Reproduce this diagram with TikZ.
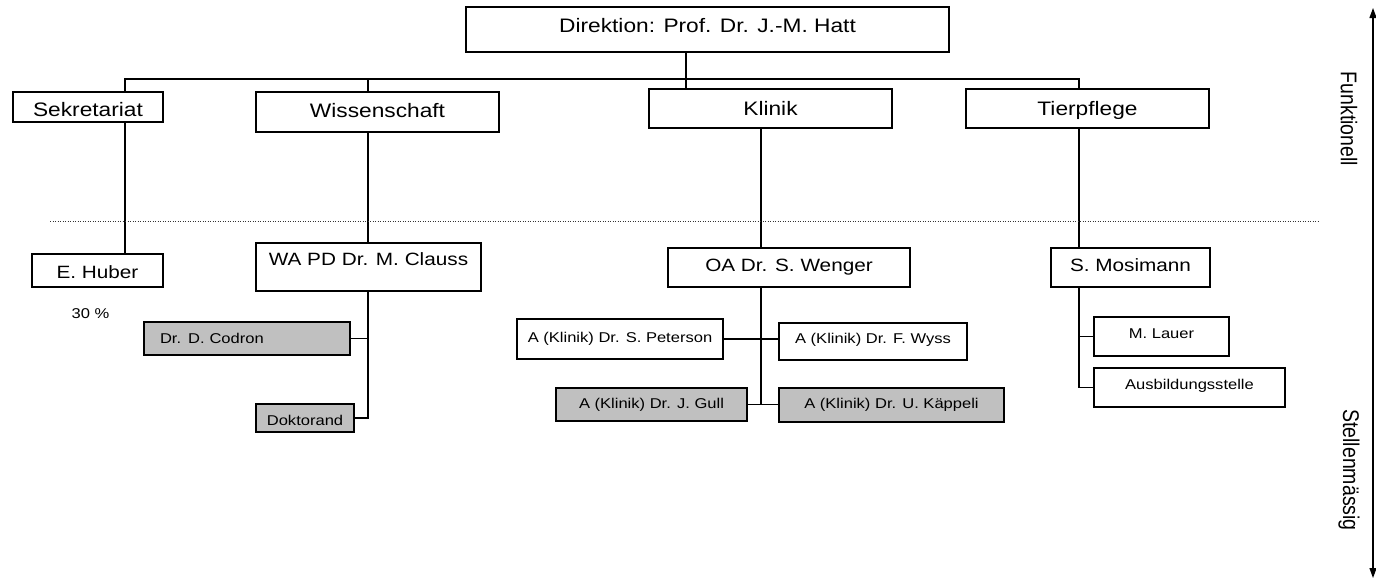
\documentclass[tikz,border=0pt]{standalone}
\usepackage{fontspec}
\setmainfont{Liberation Sans}[FakeStretch=1.165]
\newfontfamily\rotfont{Liberation Sans}
\usepackage{graphicx}
\usetikzlibrary{arrows.meta}
\definecolor{boxgray}{HTML}{C0C0C0}
\definecolor{busgray}{HTML}{333333}
\begin{document}
\begin{tikzpicture}[x=1pt,y=-1pt,
  bx/.style={draw, line width=1.3pt, inner sep=0pt},
  gbx/.style={bx, fill=boxgray},
  big/.style={font=\fontsize{19.5pt}{23pt}\selectfont, text height=14pt, text depth=0pt},
  mid/.style={font=\fontsize{17.8pt}{21pt}\selectfont, text height=12.7pt, text depth=0pt},
  small/.style={font=\fontsize{14.2pt}{17pt}\selectfont, text height=10.2pt, text depth=0pt},
  ln/.style={line width=1.3pt, black},
  dotline/.style={line width=0.8pt, busgray, dash pattern=on 1pt off 1.5pt},
  rot/.style={rotate=-90, inner sep=0pt, font=\rotfont\fontsize{19.5pt}{23pt}\selectfont},
  tip/.style={line width=1.3pt, {Triangle[length=10pt,width=7pt]}-{Triangle[length=10pt,width=7pt]}}
]
\useasboundingbox (0,0) rectangle (1376,584);

% top level
\node[bx, big, minimum width=483pt, minimum height=45pt] (dir) at (707.5,29.5) {\raisebox{4.5pt}{Direktion: Prof. Dr. J.-M. Hatt}};
\node[bx, big, minimum width=150pt, minimum height=30pt] (sek) at (88,107) {\raisebox{-2pt}{Sekretariat}};
\node[bx, big, minimum width=243pt, minimum height=40pt] (wis) at (377.5,112) {\raisebox{2pt}{Wissenschaft}};
\node[bx, big, minimum width=243pt, minimum height=39pt] (kli) at (770.5,108.5) {Klinik};
\node[bx, big, minimum width=243pt, minimum height=39pt] (tie) at (1087.5,108.5) {Tierpflege};

% second level
\node[bx, mid, minimum width=131pt, minimum height=33pt] (hub) at (97.5,270.5) {\raisebox{-2pt}{E. Huber}};
\node[bx, mid, minimum width=225pt, minimum height=48pt] (cla) at (368.5,267) {\raisebox{8pt}{WA PD Dr. M. Clauss}};
\node[bx, mid, minimum width=242pt, minimum height=39pt] (wen) at (789,267.5) {\raisebox{2.5pt}{OA Dr. S. Wenger}};
\node[bx, mid, minimum width=159pt, minimum height=39pt] (mos) at (1130.5,267.5) {\raisebox{2.5pt}{S. Mosimann}};

% third level
\node[gbx, small, minimum width=206pt, minimum height=33pt, text width=174pt, align=left, inner xsep=16pt] (cod) at (247,338.5) {Dr. D. Codron};
\node[gbx, small, minimum width=98pt, minimum height=28pt] (dok) at (305,418) {\raisebox{-2pt}{Doktorand}};
\node[bx, small, minimum width=206pt, minimum height=40pt] (pet) at (620,339) {\raisebox{2pt}{A (Klinik) Dr. S. Peterson}};
\node[bx, small, minimum width=188pt, minimum height=37pt] (wys) at (873,341.5) {\raisebox{3.5pt}{A (Klinik) Dr. F. Wyss}};
\node[gbx, small, minimum width=191pt, minimum height=33pt] (gul) at (651.5,404.5) {\raisebox{1.5pt}{A (Klinik) Dr. J. Gull}};
\node[gbx, small, minimum width=225pt, minimum height=34pt] (kap) at (891.5,405) {\raisebox{2pt}{A (Klinik) Dr. U. Käppeli}};
\node[bx, small, minimum width=135pt, minimum height=39pt] (lau) at (1161.5,336.5) {\raisebox{3.5pt}{M. Lauer}};
\node[bx, small, minimum width=191pt, minimum height=39pt] (aus) at (1189.5,387.5) {\raisebox{3.5pt}{Ausbildungsstelle}};

\node[small, inner sep=0pt] (pct) at (90.5,313) {30 \%};

% column coordinates
\coordinate (c125) at (125,79);
\coordinate (c368) at (368,79);
\coordinate (c686) at (686,79);
\coordinate (c761) at (761,79);
\coordinate (c1079) at (1079,79);

% connectors
\draw[ln] (sek.north -| c125) -- (c125) -- (c1079) -- (tie.north -| c1079);
\draw[ln] (c368) -- (wis.north -| c368);
\draw[ln] (dir.south -| c686) -- (kli.north -| c686);
\draw[ln] (sek.south -| c125) -- (hub.north -| c125);
\draw[ln] (wis.south -| c368) -- (cla.north -| c368);
\draw[ln] (cla.south -| c368) |- (dok.east);
\draw[ln] (cod.east) -- (cod.east -| c368);
\draw[ln] (kli.south -| c761) -- (wen.north -| c761);
\draw[ln] (wen.south -| c761) -- (gul.east -| c761);
\draw[ln] (pet.east) -- (pet.east -| wys.west);
\draw[ln] (gul.east) -- (gul.east -| kap.west);
\draw[ln] (tie.south -| c1079) -- (mos.north -| c1079);
\draw[ln] (mos.south -| c1079) |- (aus.west);
\draw[ln] (c1079 |- lau.west) -- (lau.west);

% dotted separator
\coordinate (dl) at (50,221);
\coordinate (dr) at (1320,221);
\draw[dotline] (dl) -- (dr);

% side arrow and labels
\coordinate (at) at (1373,8);
\coordinate (ab) at (1373,578);
\draw[tip] (at) -- (ab);
\node[rot] (fk) at (1349,119) {\scalebox{1}[1.165]{Funktionell}};
\node[rot] (st) at (1349,470) {\scalebox{1}[1.165]{Stellenmässig}};
\end{tikzpicture}
\end{document}
